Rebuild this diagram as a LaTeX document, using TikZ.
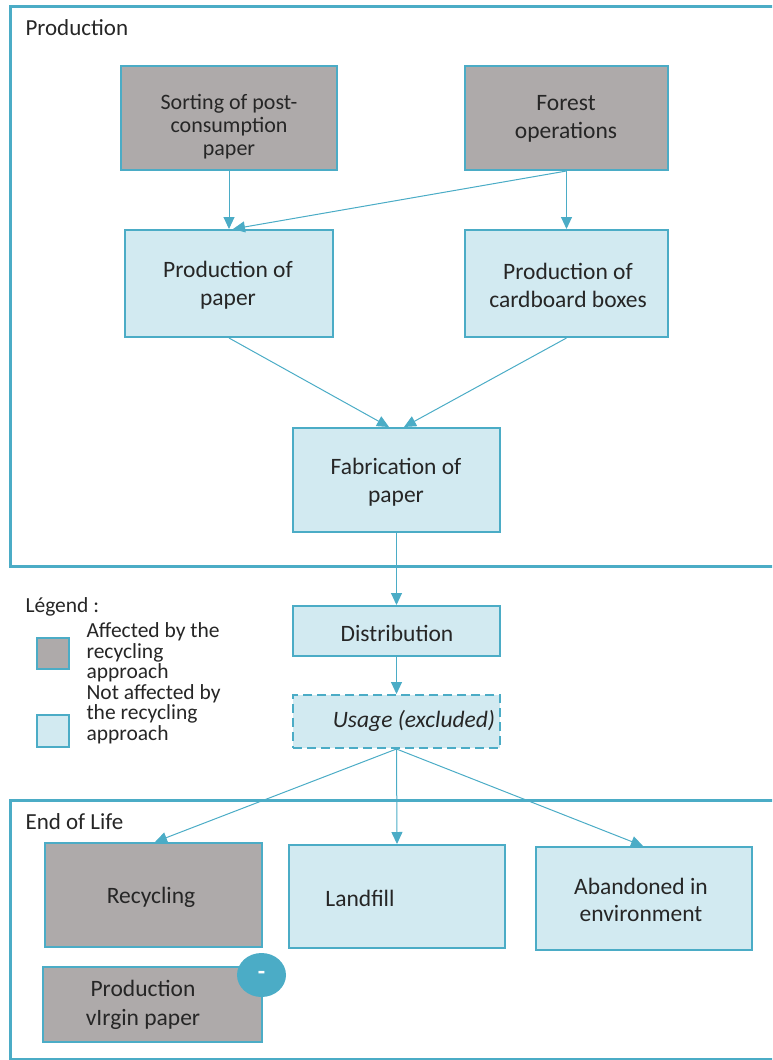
\documentclass[tikz,border=0pt]{standalone}
\usepackage{fontspec}
\setmainfont{Carlito}
\usetikzlibrary{arrows.meta,shapes.geometric}
\definecolor{aqua}{HTML}{4BACC6}
\definecolor{greyfill}{HTML}{AEAAAA}
\definecolor{lightfill}{HTML}{D2EAF1}
\definecolor{ink}{HTML}{262626}
\begin{document}
\begin{tikzpicture}[x=1pt,y=-1pt,
  frame/.style={draw=aqua,line width=3pt},
  gbox/.style={draw=aqua,line width=2pt,fill=greyfill},
  lbox/.style={draw=aqua,line width=2pt,fill=lightfill},
  txt/.style={align=center,text=ink,font=\fontsize{23.5}{24}\selectfont},
  txtwide/.style={align=center,text=ink,font=\fontsize{23.5}{28}\selectfont},
  heading/.style={anchor=west,text=ink,font=\fontsize{23}{26}\selectfont},
  lgtxt/.style={anchor=west,align=left,text=ink,font=\fontsize{21.5}{20.5}\selectfont},
  arr/.style={draw=aqua,line width=1pt,-{Triangle[length=12pt,width=11pt]}}]
\useasboundingbox (0,0) rectangle (772,1060);
\clip (0,0) rectangle (772,1060);

% stage frames
\draw[frame] (10,6.5) rectangle (820,566);
\node[heading] (hprod) at (22,28) {Production};
\draw[frame] (10,800) rectangle (820,1059.5);
\node[heading] (heol) at (22,822) {End of Life};

% production stage
\node[gbox,minimum width=216,minimum height=104] (sort) at (229,118) {};
\node[txt,font=\fontsize{22}{23}\selectfont] (sortt) at (229,127) {Sorting of post-\\consumption\\paper};
\node[gbox,minimum width=203,minimum height=104] (forest) at (566.5,118) {};
\node[txtwide] (forestt) at (566,119) {Forest\\operations};
\node[lbox,minimum width=208,minimum height=107] (paper) at (229,283.5) {};
\node[txtwide] (papert) at (228,285) {Production of\\paper};
\node[lbox,minimum width=203,minimum height=107] (card) at (566.5,283.5) {};
\node[txtwide] (cardt) at (568,285) {Production of\\cardboard boxes};
\node[lbox,minimum width=207,minimum height=104] (fab) at (396.5,480) {};
\node[txtwide] (fabt) at (396,482) {Fabrication of\\paper};

% distribution and use
\node[lbox,minimum width=207,minimum height=50] (dist) at (396.5,631) {};
\node[txt] (distt) at (397,633) {Distribution};
\node[lbox,dashed,dash pattern=on 9pt off 5pt,minimum width=207,minimum height=53] (usage) at (396.5,721.5) {};
\node[txt,font=\fontsize{23.5}{24}\selectfont\itshape] (usaget) at (414,721) {Usage (excluded)};

% end of life stage
\node[gbox,minimum width=217,minimum height=104] (recyc) at (153.5,895) {};
\node[txt] (recyct) at (151,897) {Recycling};
\node[lbox,minimum width=216,minimum height=103] (land) at (397,896.5) {};
\node[txt] (landt) at (360,898) {Landfill};
\node[lbox,minimum width=216,minimum height=103] (aband) at (644,898.5) {};
\node[txt,font=\fontsize{23.5}{27}\selectfont] (abandt) at (641,899.5) {Abandoned in\\environment};
\node[gbox,minimum width=219,minimum height=75] (virgin) at (152.5,1004.5) {};
\node[txt,font=\fontsize{23.5}{29}\selectfont] (virgint) at (143,1004.5) {Production\\vIrgin paper};
\node[ellipse,fill=aqua,minimum width=49,minimum height=44,inner sep=0pt,
      text=white,font=\fontsize{24}{24}\selectfont\bfseries] (minus) at (261.5,975) {-};

% legend
\node[lgtxt] (lgtitle) at (22,607) {Légend :};
\node[gbox,minimum width=32,minimum height=31,inner sep=0pt] (lg1) at (53,653.5) {};
\node[lgtxt] (lg1t) at (83,652.5) {Affected by the\\recycling\\approach};
\node[lbox,minimum width=32,minimum height=32,inner sep=0pt] (lg2) at (53,731) {};
\node[lgtxt] (lg2t) at (83,714) {Not affected by\\the recycling\\approach};

% flows
\draw[arr] (sort.south) -- (paper.north);
\draw[arr] (forest.south) -- (card.north);
\draw[arr] (forest.south) -- ([xshift=4pt]paper.north);
\draw[arr] (paper.south) -- ([xshift=-7.5pt]fab.north);
\draw[arr] (card.south) -- ([xshift=7.5pt]fab.north);
\draw[arr] (fab.south) -- (dist.north);
\draw[arr] (dist.south) -- (usage.north);
\draw[arr] (usage.south) -- ([xshift=1.5pt]recyc.north);
\draw[arr] (usage.south) -- (land.north);
\draw[arr] (usage.south) -- ([xshift=-1pt]aband.north);
\end{tikzpicture}
\end{document}
